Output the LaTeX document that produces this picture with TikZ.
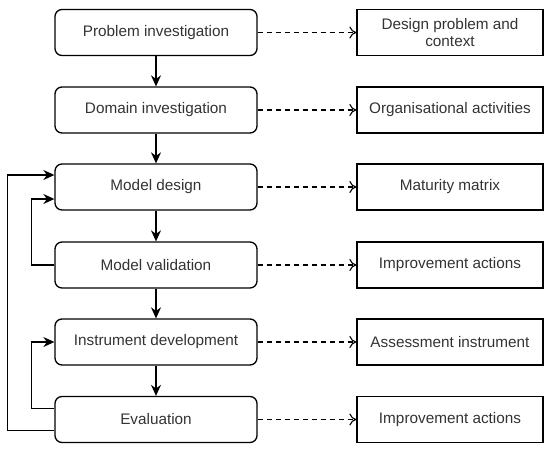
\documentclass[tikz,border=0pt]{standalone}
\usepackage{fontspec}
\setmainfont{Liberation Sans}
\usetikzlibrary{arrows.meta}
\begin{document}
\begin{tikzpicture}[x=1pt, y=1pt,
  every node/.style={font=\fontsize{15.3}{17.5}\selectfont, text=black!80},
  phase/.style={draw, line width=1.3pt, rounded corners=7pt, minimum width=202pt, minimum height=46pt},
  result/.style={draw, line width=1.3pt, minimum width=186pt, minimum height=46pt, align=center},
  flow/.style={line width=1.3pt, -{Stealth[length=11pt, width=10pt]}},
  yields/.style={line width=1.1pt, dash pattern=on 5pt off 4pt, -{To[length=7pt, width=12pt, line width=1.1pt]}}]
  \useasboundingbox (0,0) rectangle (550,-451);
  % 阶段与产出
  \node[phase] (problem) at (156,-32.5) {Problem investigation};
  \node[phase] (domain) at (156,-110) {Domain investigation};
  \node[phase] (design) at (156,-187) {Model design};
  \node[phase] (valid) at (156,-265) {Model validation};
  \node[phase] (instr) at (156,-342) {Instrument development};
  \node[phase] (eval) at (156,-419.5) {Evaluation};
  \node[result] (context) at (450,-32.5) {Design problem and\\context};
  \node[result] (activities) at (450,-110) {Organisational activities};
  \node[result] (matrix) at (450,-187) {Maturity matrix};
  \node[result] (actionsA) at (450,-265) {Improvement actions};
  \node[result] (assess) at (450,-342) {Assessment instrument};
  \node[result] (actionsB) at (450,-419.5) {Improvement actions};
  \draw[flow] (problem) -- (domain);
  \draw[flow] (domain) -- (design);
  \draw[flow] (design) -- (valid);
  \draw[flow] (valid) -- (instr);
  \draw[flow] (instr) -- (eval);
  \draw[yields] (problem) -- (context);
  \draw[yields] (domain) -- (activities);
  \draw[yields] (design) -- (matrix);
  \draw[yields] (valid) -- (actionsA);
  \draw[yields] (instr) -- (assess);
  \draw[yields] (eval) -- (actionsB);
  \draw[flow] (valid.west) -- ++(-23pt,0) |- ([yshift=-12pt]design.west);
  \draw[flow] ([yshift=11pt]eval.west) -- ++(-23pt,0) |- (instr.west);
  \draw[flow] ([yshift=-11pt]eval.west) -- ++(-47pt,0) |- ([yshift=12pt]design.west);
\end{tikzpicture}
\end{document}
